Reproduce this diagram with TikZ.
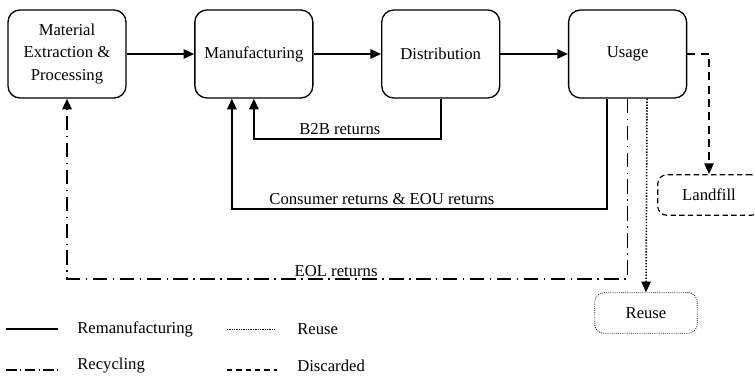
\documentclass[tikz,border=0pt]{standalone}
\usepackage{fontspec}
\setmainfont{Liberation Serif}
\usetikzlibrary{arrows.meta, positioning}

\begin{document}
\begin{tikzpicture}[x=0.75pt, y=-0.75pt, node distance=6mm and 17.8mm,
      every node/.style={font=\fontsize{12.5}{17}\selectfont},
      stage/.style={rounded corners=9pt, draw, line width=1pt, minimum height=66pt, minimum width=88.5pt,
                  align=center, inner sep=2pt, fill=white},
      sink/.style={rounded corners=7pt, draw, line width=0.9pt, minimum height=30.5pt, minimum width=77pt},
      flow/.style={-{Triangle[length=8pt,width=7pt]}, line width=1.3pt},
      remanu/.style={line width=1.3pt},
      recyc/.style={line width=1.3pt, dash pattern=on 11pt off 4pt on 1.2pt off 4pt},
      reuseline/.style={line width=1.2pt, dash pattern=on 1pt off 1.2pt},
      discard/.style={line width=1.3pt, dash pattern=on 6pt off 4pt},
      lbl/.style={above, inner sep=2pt},
      key/.style={anchor=west, inner sep=0pt}]
    \useasboundingbox (0,0) rectangle (755,378);
    \node[stage] (mat) at (67,54) {Material\\Extraction \&\\Processing};
    \node[stage, right=of mat] (manu) {Manufacturing};
    \node[stage, right=of manu] (dist) {Distribution};
    \node[stage, right=of dist] (use) {Usage};
    \node[sink, dash pattern=on 4pt off 2.5pt] (land) at (709,195) {Landfill};
    \node[sink, line width=0.6pt, dash pattern=on 0.6pt off 1pt] (reuse) at (646,313) {Reuse};
    \draw[flow] (mat) -- (manu);
    \draw[flow] (manu) -- (dist);
    \draw[flow] (dist) -- (use);
    \draw[flow, discard] (use) -| (land);
    \draw[flow] (dist.south) -- ++(0,40) -| node[lbl, pos=0.27] {B2B returns} (manu.south);
    \draw[flow] ([xshift=-15.4pt]use.south) -- ++(0,110) -| node[lbl, pos=0.3] {Consumer returns \& EOU returns} ([xshift=-16.5pt]manu.south);
    \draw[flow, recyc] (use.south) -- ++(0,180) -| node[lbl, pos=0.26, inner sep=1pt] {EOL returns} (mat.south);
    \draw[flow, reuseline] ([xshift=14.6pt]use.south) -- (reuse.north);
    \draw[remanu, line width=1pt] (6,329) -- (58,329);
    \node[key] (kreman) at (77,329) {Remanufacturing};
    \draw[line width=0.5pt, dash pattern=on 0.5pt off 0.8pt] (227,329) -- (275,329);
    \node[key] (kreuse) at (297,329) {Reuse};
    \draw[line width=1pt, dash pattern=on 8pt off 2.6pt on 0.8pt off 2.6pt] (6,370) -- (58,370);
    \node[key] (krecyc) at (77,366) {Recycling};
    \draw[line width=0.9pt, dash pattern=on 4pt off 3pt] (227,370) -- (277,370);
    \node[key] (kdisc) at (297,366) {Discarded};
  \end{tikzpicture}
\end{document}
